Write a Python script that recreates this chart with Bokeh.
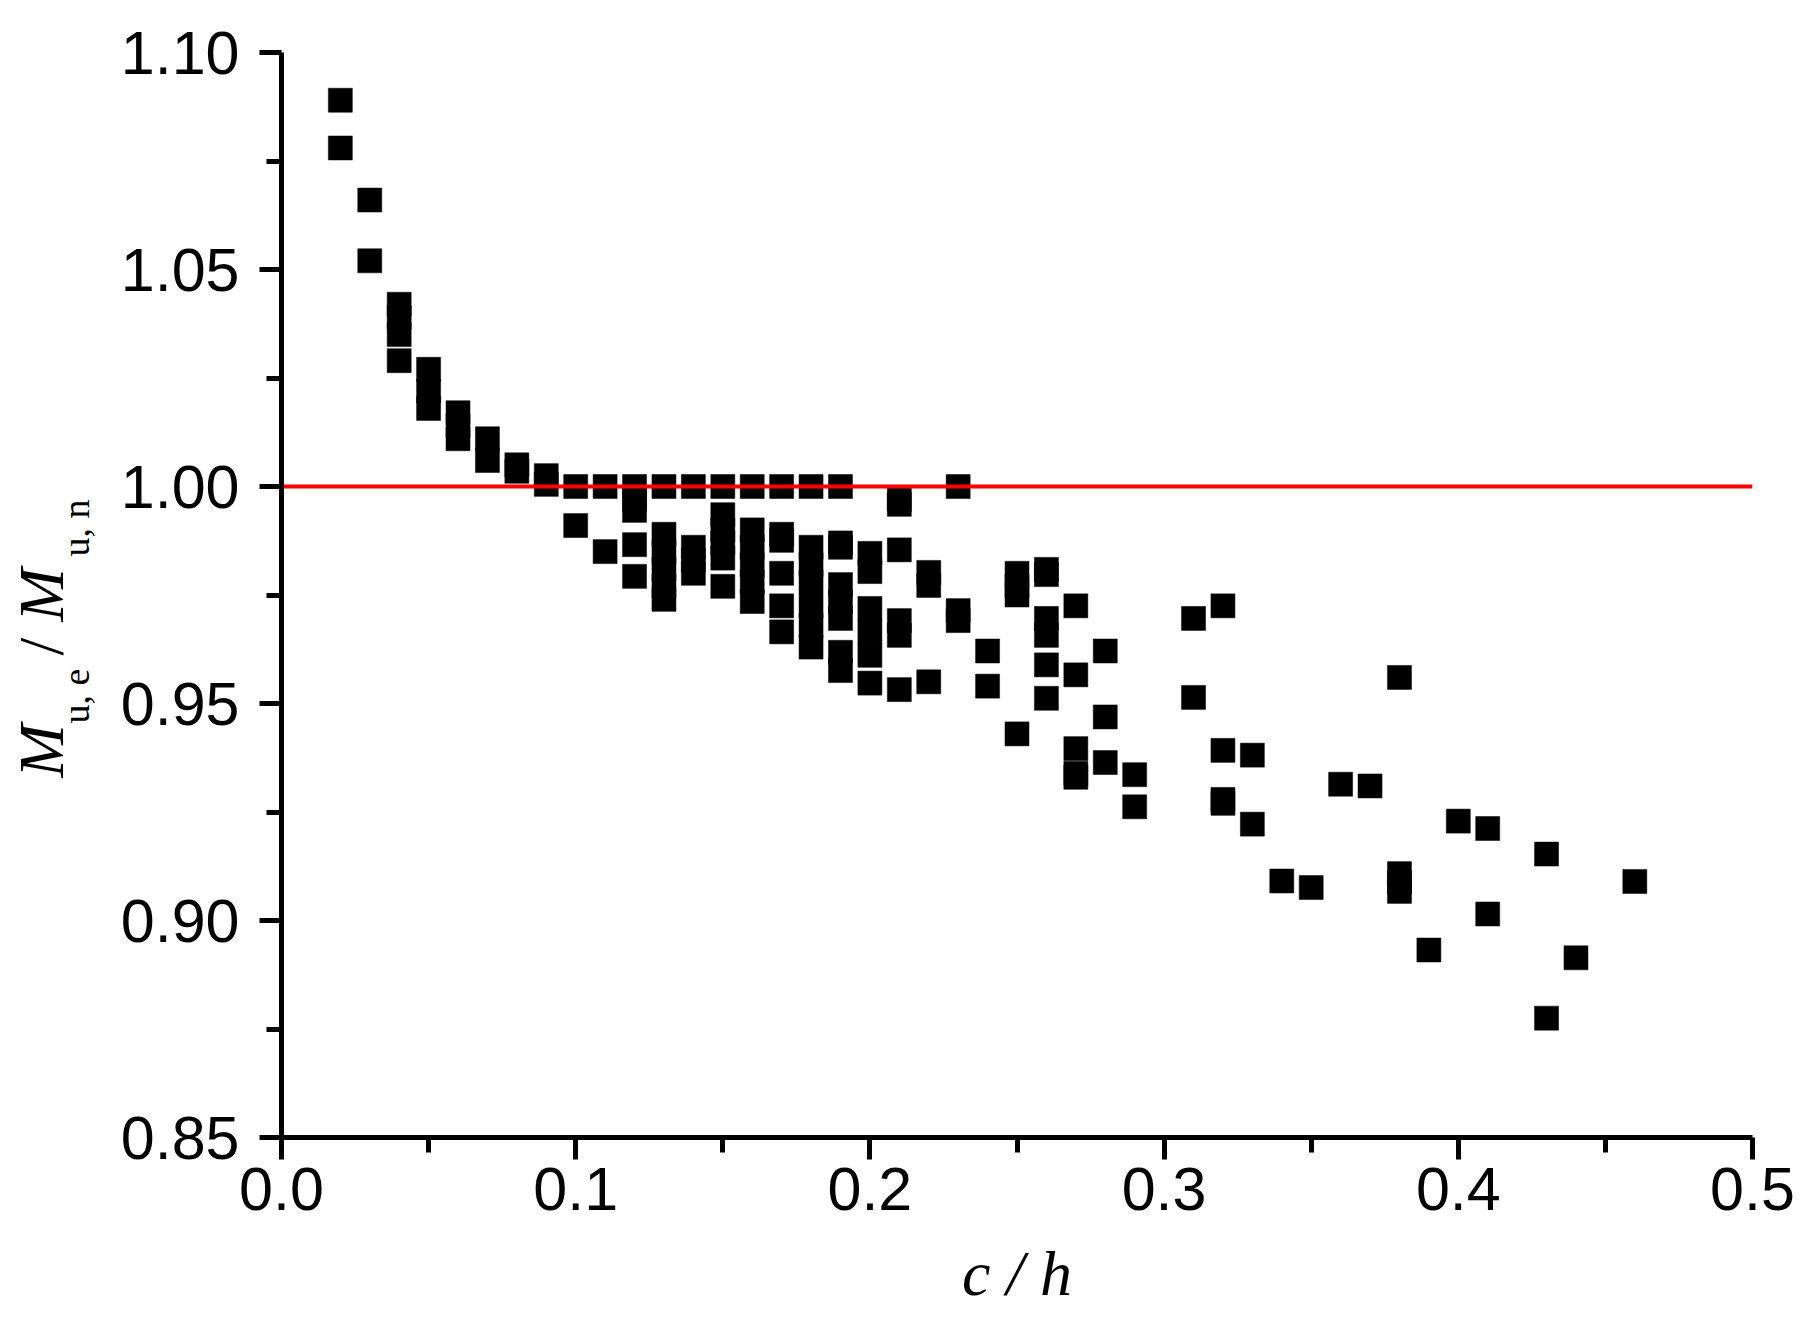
import math
from bokeh.plotting import figure
from bokeh.models import Range1d, FixedTicker, ColumnDataSource
from bokeh.layouts import row
from bokeh.core.properties import value
from bokeh.embed import file_html
from bokeh.resources import INLINE

# ---- data ----
c_h = [0.02, 0.02,
       0.03, 0.03,
       0.04, 0.04, 0.04, 0.04,
       0.05, 0.05, 0.05,
       0.06, 0.06, 0.06,
       0.07, 0.07,
       0.08, 0.08,
       0.09, 0.09,
       0.10, 0.10,
       0.11, 0.11,
       0.12, 0.12, 0.12, 0.12, 0.12,
       0.13, 0.13, 0.13, 0.13, 0.13, 0.13,
       0.14, 0.14, 0.14, 0.14,
       0.15, 0.15, 0.15, 0.15, 0.15, 0.15,
       0.16, 0.16, 0.16, 0.16, 0.16, 0.16,
       0.17, 0.17, 0.17, 0.17, 0.17, 0.17,
       0.18, 0.18, 0.18, 0.18, 0.18, 0.18, 0.18,
       0.19, 0.19, 0.19, 0.19, 0.19, 0.19, 0.19, 0.19,
       0.20, 0.20, 0.20, 0.20, 0.20, 0.20,
       0.21, 0.21, 0.21, 0.21, 0.21, 0.21,
       0.22, 0.22, 0.22,
       0.23, 0.23, 0.23,
       0.24, 0.24,
       0.25, 0.25, 0.25, 0.25,
       0.26, 0.26, 0.26, 0.26, 0.26, 0.26,
       0.27, 0.27, 0.27, 0.27, 0.27,
       0.28, 0.28, 0.28,
       0.29, 0.29,
       0.31, 0.31,
       0.32, 0.32, 0.32, 0.32,
       0.33, 0.33,
       0.34,
       0.35,
       0.36,
       0.37,
       0.38, 0.38, 0.38, 0.38,
       0.39,
       0.40,
       0.41, 0.41,
       0.43, 0.43,
       0.44,
       0.46]

ratio = [1.089, 1.078,
         1.066, 1.052,
         1.042, 1.039, 1.035, 1.029,
         1.027, 1.022, 1.018,
         1.017, 1.014, 1.011,
         1.011, 1.006,
         1.005, 1.0035,
         1.0025, 1.0005,
         1.000, 0.991,
         1.000, 0.985,
         1.000, 0.997, 0.9945, 0.9866, 0.9793,
         1.000, 0.989, 0.985, 0.981, 0.977, 0.974,
         1.000, 0.986, 0.983, 0.980,
         1.000, 0.9935, 0.990, 0.987, 0.9835, 0.977,
         1.000, 0.990, 0.986, 0.982, 0.978, 0.9735,
         1.000, 0.989, 0.9876, 0.980, 0.9725, 0.9665,
         1.000, 0.986, 0.982, 0.978, 0.9725, 0.968, 0.963,
         1.000, 0.987, 0.986, 0.9774, 0.9735, 0.9696, 0.9618, 0.9576,
         0.9846, 0.9804, 0.9719, 0.9665, 0.9611, 0.9547,
         0.997, 0.9959, 0.9854, 0.9691, 0.9657, 0.9532,
         0.9802, 0.9772, 0.955,
         1.000, 0.9714, 0.9691,
         0.9621, 0.954,
         0.980, 0.977, 0.975, 0.943,
         0.9809, 0.9797, 0.9696, 0.9657, 0.9589, 0.9512,
         0.9725, 0.9566, 0.9396, 0.9339, 0.933,
         0.9621, 0.9469, 0.9364,
         0.9336, 0.9262,
         0.9696, 0.9514,
         0.9725, 0.9392, 0.9279, 0.927,
         0.9381, 0.9222,
         0.9091,
         0.9076,
         0.9314,
         0.931,
         0.956, 0.9108, 0.9087, 0.9067,
         0.8932,
         0.9229,
         0.9212, 0.9015,
         0.9153, 0.8775,
         0.8914,
         0.909]

ref_x = [0.0, 0.5]
ref_y = [1.0, 1.0]

x_ticks = [0.0, 0.1, 0.2, 0.3, 0.4, 0.5]
x_tick_labels = ["0.0", "0.1", "0.2", "0.3", "0.4", "0.5"]
y_ticks = [0.85, 0.90, 0.95, 1.00, 1.05, 1.10]
y_tick_labels = ["0.85", "0.90", "0.95", "1.00", "1.05", "1.10"]
x_minor = [0.05, 0.15, 0.25, 0.35, 0.45]
y_minor = [0.875, 0.925, 0.975, 1.025, 1.075]

# y-axis title pieces: text, style, size
ytitle_text = ["M", "u, e", "/", "M", "u, n"]
ytitle_style = ["italic", "normal", "normal", "italic", "normal"]
ytitle_size = ["64px", "38px", "64px", "64px", "38px"]

# ---- layout constants (page pixels) ----
H = 1312
LW = 110                 # width of the strip that holds the y title
W_MAIN = 1796 - LW
FRAME_TOP, FRAME_BOT = 52, 1137
ML = 281 - LW
MR = W_MAIN + LW - 1752
MT = FRAME_TOP
MB = H - FRAME_BOT

# ---- main figure ----
p = figure(width=W_MAIN, height=H, x_range=Range1d(0.0, 0.5), y_range=Range1d(0.85, 1.10),
           output_backend="svg", toolbar_location=None,
           min_border_left=ML, min_border_right=MR, min_border_top=MT, min_border_bottom=MB)
p.outline_line_color = None
p.xgrid.visible = False
p.ygrid.visible = False
p.background_fill_color = "white"
p.border_fill_color = "white"

src = ColumnDataSource(dict(x=c_h, y=ratio))
p.scatter("x", "y", source=src, marker="square", size=24,
          fill_color="black", line_color="black", line_width=0.5)
p.line(ref_x, ref_y, line_color="#ff0000", line_width=4)

for ax in (p.xaxis[0], p.yaxis[0]):
    ax.axis_line_width = 5
    ax.axis_line_color = "black"
    ax.major_tick_line_width = 5
    ax.minor_tick_line_width = 5
    ax.major_tick_out = 22
    ax.major_tick_in = 0
    ax.minor_tick_out = 15
    ax.minor_tick_in = 0
    ax.major_label_text_font = "Liberation Sans"
    ax.major_label_text_font_size = "61px"
    ax.major_label_text_color = "black"

p.xaxis.ticker = FixedTicker(ticks=x_ticks, minor_ticks=x_minor)
p.yaxis.ticker = FixedTicker(ticks=y_ticks, minor_ticks=y_minor)
p.xaxis.major_label_overrides = {tk: s for tk, s in zip(x_ticks, x_tick_labels)}
p.yaxis.major_label_overrides = {tk: s for tk, s in zip(y_ticks, y_tick_labels)}
p.xaxis.major_label_standoff = 8
p.yaxis.major_label_standoff = 20

p.xaxis.axis_label = "c / h"
p.xaxis.axis_label_text_font = "Liberation Serif"
p.xaxis.axis_label_text_font_style = "italic"
p.xaxis.axis_label_text_font_size = "64px"
p.xaxis.axis_label_text_color = "black"
p.xaxis.axis_label_standoff = 25

# ---- left strip with the y-axis title (frame aligned with the main frame) ----
t = figure(width=LW, height=H, x_range=Range1d(0, LW), y_range=p.y_range,
           output_backend="svg", toolbar_location=None,
           x_axis_location=None, y_axis_location=None,
           min_border_left=0, min_border_right=0,
           min_border_top=MT, min_border_bottom=MB)
t.outline_line_color = None
t.xgrid.visible = False
t.ygrid.visible = False
t.background_fill_color = "white"
t.border_fill_color = "white"

px_per_y = (FRAME_BOT - FRAME_TOP) / (1.10 - 0.85)
# anchor x and start y (page px) of each piece
piece_bx = [41, 75, 41, 41, 75]
piece_sy = [777, 723, 655, 621, 556]
for txt, style, size, bx, sy in zip(ytitle_text, ytitle_style, ytitle_size, piece_bx, piece_sy):
    yd = 1.10 - (sy - FRAME_TOP) / px_per_y
    t.text(x=[bx], y=[yd], text=[txt], angle=math.pi / 2,
           text_font=value("Liberation Serif"), text_font_style=style,
           text_font_size=size, text_color="black",
           text_align="left", text_baseline="alphabetic")

layout = row(t, p, spacing=0)
open("out.html", "w").write(file_html(layout, INLINE))
